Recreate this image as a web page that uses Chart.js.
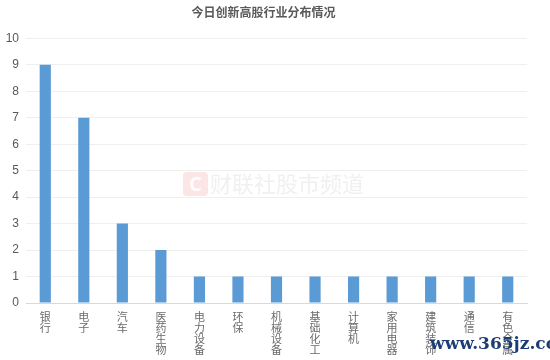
<!DOCTYPE html>
<html><head><meta charset="utf-8">
<script src="https://cdn.jsdelivr.net/npm/chart.js@4/dist/chart.umd.min.js"></script>
<style>html,body{margin:0;padding:0;background:#fff}#wrap{width:550px;height:360px}</style>
</head><body><div id="wrap"><canvas id="c" width="550" height="360"></canvas></div>
<script>
const categories = ["银行","电子","汽车","医药生物","电力设备","环保","机械设备","基础化工","计算机","家用电器","建筑装饰","通信","有色金属"];
const counts = [9,7,3,2,1,1,1,1,1,1,1,1,1];
const yTicks = [0,1,2,3,4,5,6,7,8,9,10];
const titleText = "今日创新高股行业分布情况";
const watermark1 = "财联社股市频道";
const watermark2 = "www.365jz.com";

const wmPlugin = {
  id: 'wm',
  beforeDatasetsDraw(chart) {
    const ctx = chart.ctx;
    ctx.save();
    ctx.fillStyle = 'rgba(230,80,80,0.15)';
    const x = 183, y = 172, w = 25, h = 24, r = 4;
    ctx.beginPath();
    ctx.moveTo(x + r, y); ctx.lineTo(x + w - r, y); ctx.quadraticCurveTo(x + w, y, x + w, y + r);
    ctx.lineTo(x + w, y + h - r); ctx.quadraticCurveTo(x + w, y + h, x + w - r, y + h);
    ctx.lineTo(x + r, y + h); ctx.quadraticCurveTo(x, y + h, x, y + h - r);
    ctx.lineTo(x, y + r); ctx.quadraticCurveTo(x, y, x + r, y); ctx.fill();
    ctx.fillStyle = 'rgba(255,255,255,0.9)';
    ctx.font = 'bold 20px "Noto Sans"';
    ctx.textAlign = 'center'; ctx.textBaseline = 'middle';
    ctx.fillText('C', x + w / 2, y + h / 2 + 1);
    ctx.fillStyle = 'rgba(200,200,200,0.28)';
    ctx.font = '22px "Noto Sans CJK SC"';
    ctx.textAlign = 'left';
    ctx.fillText(watermark1, 210, 184);
    ctx.restore();
  },
  afterDraw(chart) {
    const ctx = chart.ctx;
    ctx.save();
    ctx.fillStyle = '#1c3d74';
    ctx.font = 'bold 17px "DejaVu Serif"';
    ctx.textAlign = 'left'; ctx.textBaseline = 'middle';
    ctx.fillText(watermark2, 430, 345);
    ctx.restore();
  }
};

new Chart(document.getElementById('c'), {
  type: 'bar',
  data: {
    labels: categories.map(s => s.split('')),
    datasets: [{ data: counts, backgroundColor: '#5b9bd5', borderWidth: 0,
      categoryPercentage: 1.0, barPercentage: 0.29 }]
  },
  options: {
    responsive: false, animation: false,
    layout: { padding: { left: 0, right: 23, top: 0, bottom: 0 } },
    plugins: {
      legend: { display: false },
      tooltip: { enabled: false },
      title: { display: true, text: titleText, color: '#595959',
        font: { size: 12, weight: 'bold', family: '"Noto Sans CJK SC"' },
        padding: { top: 5, bottom: 19 } }
    },
    scales: {
      x: {
        grid: { display: false },
        border: { color: '#d9d9d9', width: 1 },
        ticks: { color: '#6b6b6b', maxRotation: 0, minRotation: 0, autoSkip: false, padding: 0,
          font: { size: 11, family: '"Noto Sans CJK SC"', lineHeight: 1.0 } },
        afterFit(s) { s.height = 57; }
      },
      y: {
        min: 0, max: 10,
        afterBuildTicks(s) { s.ticks = yTicks.map(v => ({ value: v })); },
        grid: { color: '#efefef', drawTicks: false },
        border: { display: false },
        ticks: { color: '#595959', padding: 7, font: { size: 12, family: '"Liberation Sans"' } },
        afterFit(s) { s.width = 26; }
      }
    }
  },
  plugins: [wmPlugin]
});
</script></body></html>
